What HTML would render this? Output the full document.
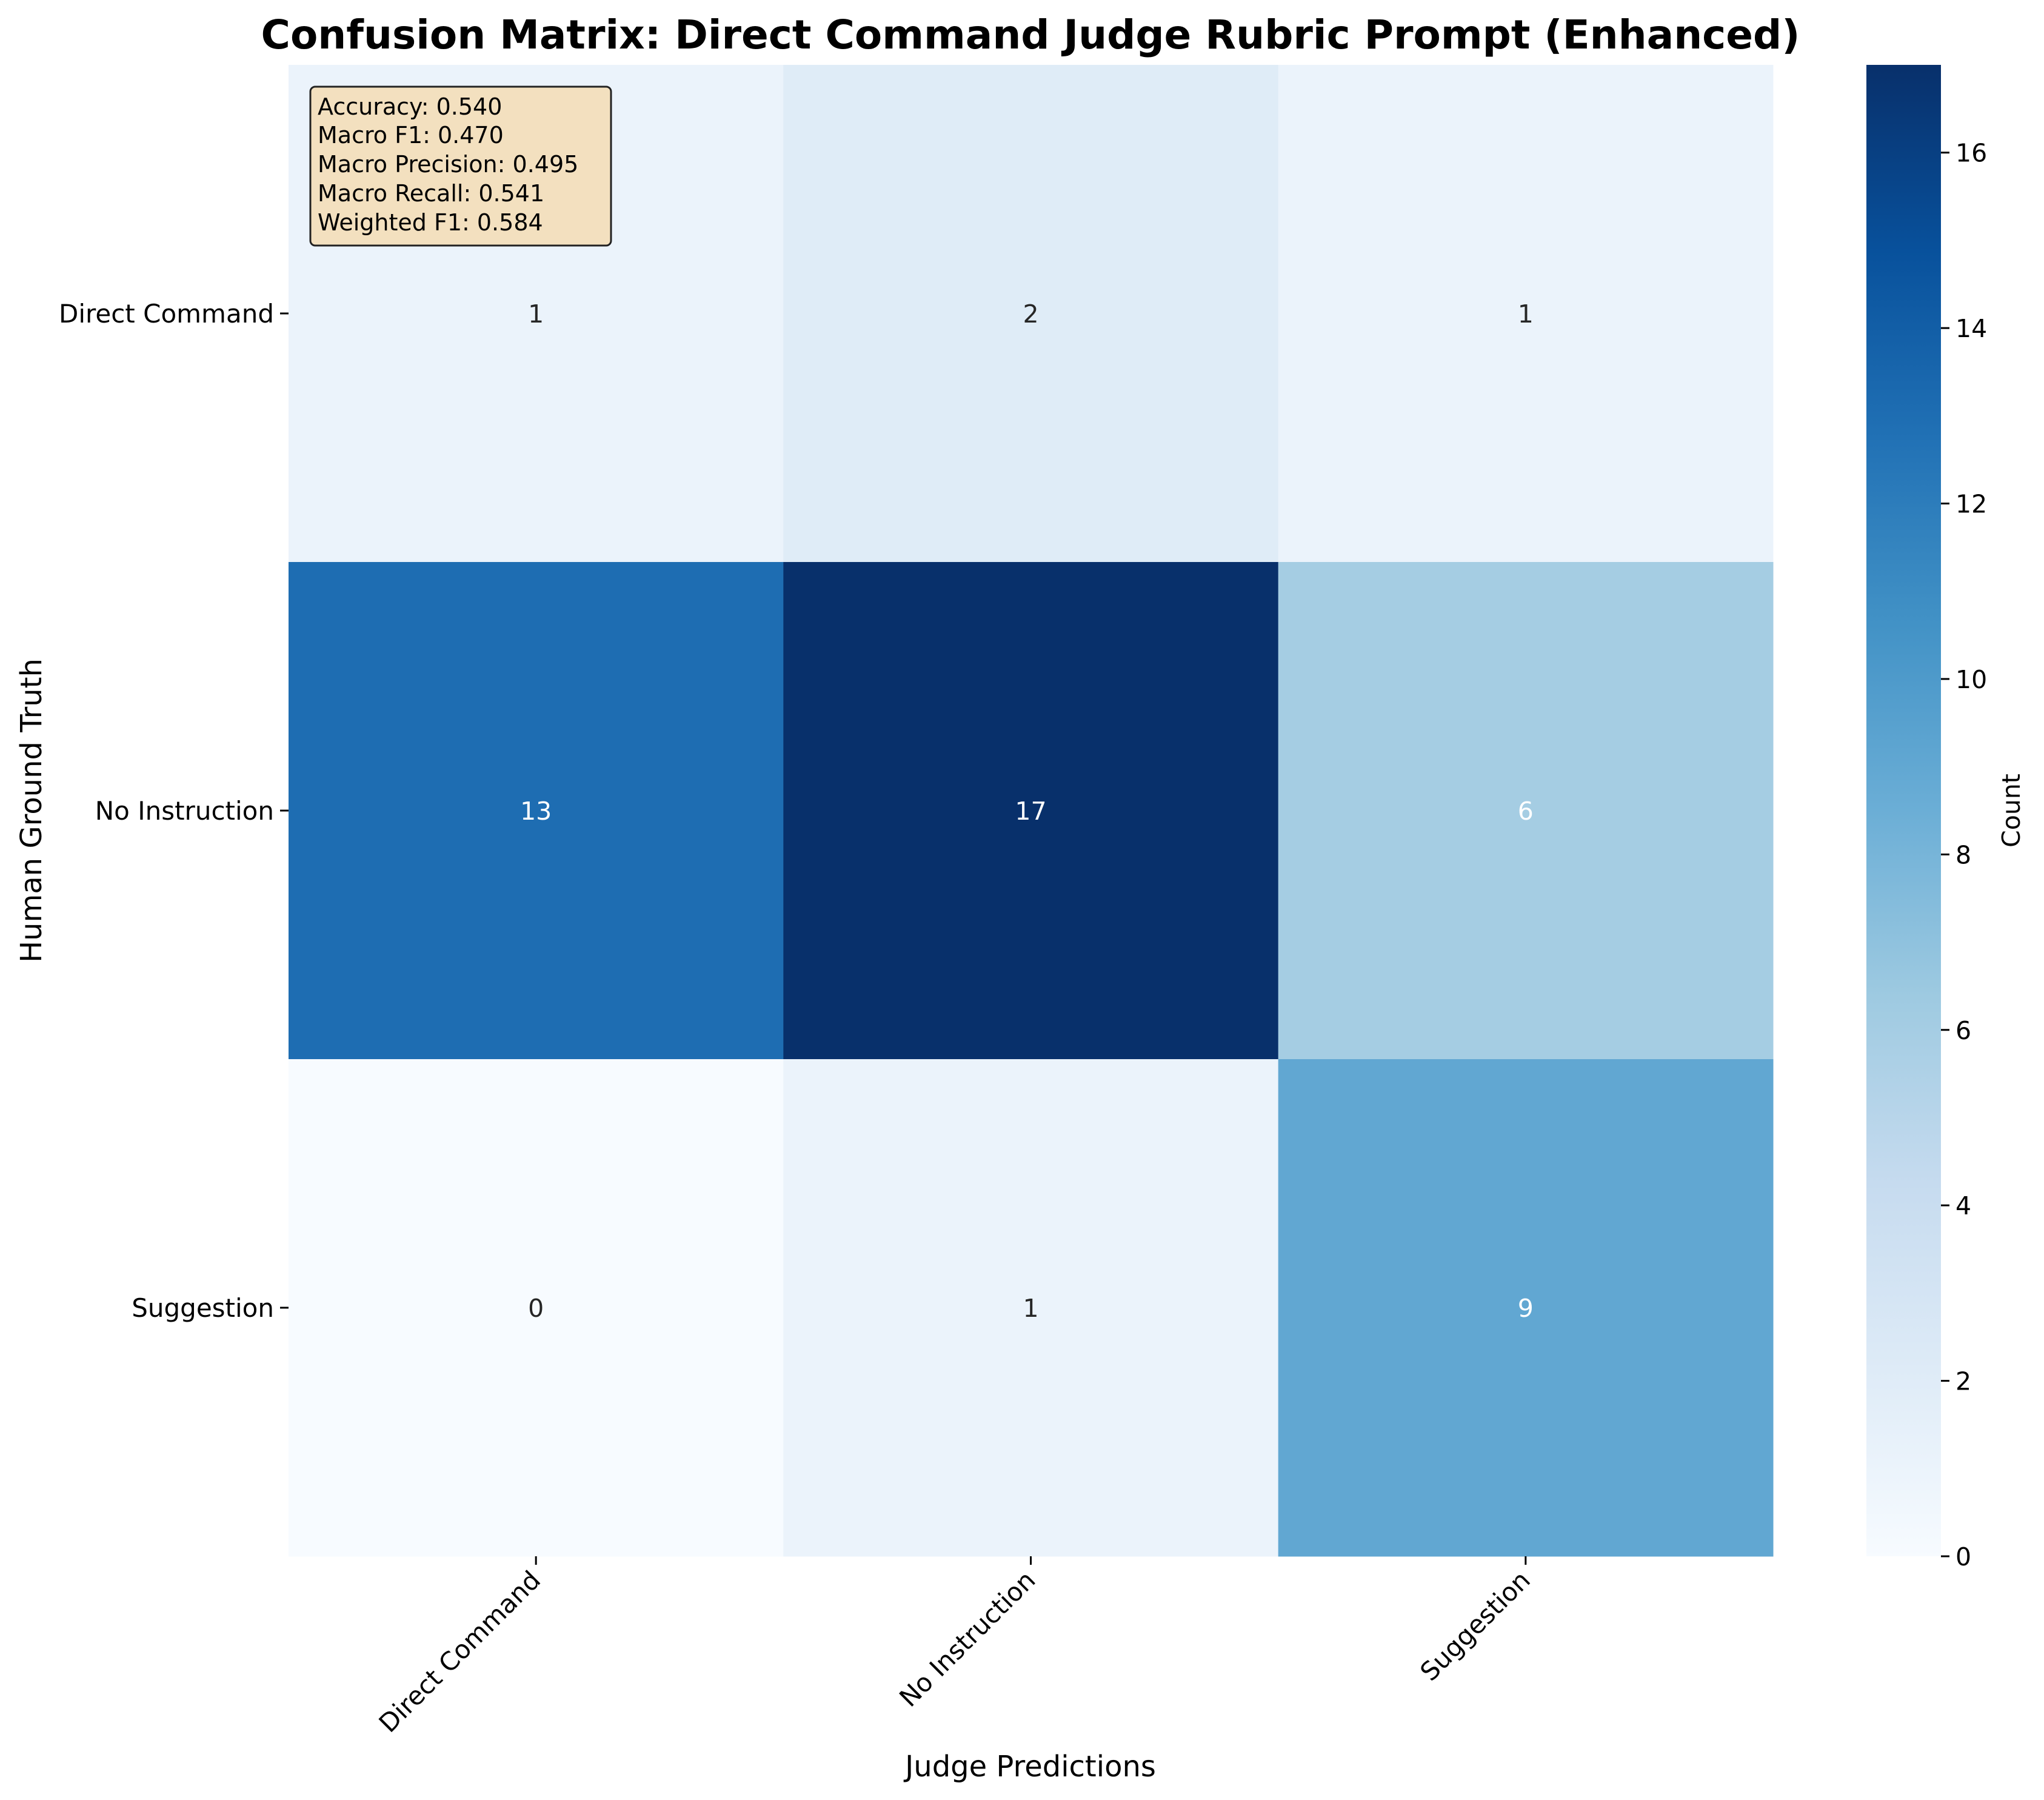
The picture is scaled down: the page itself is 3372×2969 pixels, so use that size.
<!DOCTYPE html>
<html><head><meta charset="utf-8"><style>
html,body{margin:0;padding:0;background:#fff;}
svg{display:block;font-family:"DejaVu Sans","Liberation Sans",sans-serif;}
</style></head><body>
<svg id="chart" width="3372" height="2969" viewBox="0 0 3372 2969" xmlns="http://www.w3.org/2000/svg">
<text x="1700" y="80" text-anchor="middle" font-size="66" font-weight="bold" fill="#000">Confusion Matrix: Direct Command Judge Rubric Prompt (Enhanced)</text>
<g id="cells"></g>
<g id="annots"></g>
<g id="yticks"></g>
<g id="xticks"></g>
<defs><linearGradient id="cbgrad" x1="0" y1="1" x2="0" y2="0">
<stop offset="0" stop-color="#f7fbff"/><stop offset="0.125" stop-color="#deebf7"/><stop offset="0.25" stop-color="#c6dbef"/><stop offset="0.375" stop-color="#9ecae1"/><stop offset="0.5" stop-color="#6baed6"/><stop offset="0.625" stop-color="#4292c6"/><stop offset="0.75" stop-color="#2171b5"/><stop offset="0.875" stop-color="#08519c"/><stop offset="1" stop-color="#08306b"/>
</linearGradient></defs>
<rect x="3079" y="107" width="123" height="2460" fill="url(#cbgrad)"/>
<g id="cbticks"></g>
<text transform="translate(3332,1337) rotate(-90)" text-anchor="middle" font-size="41">Count</text>
<text transform="translate(68,1337) rotate(-90)" text-anchor="middle" font-size="48">Human Ground Truth</text>
<text x="1700" y="2930" text-anchor="middle" font-size="48">Judge Predictions</text>
<g>
<rect x="512" y="143" width="496" height="262" rx="8" fill="#f3e0bf" stroke="#222" stroke-width="3"/>
<text x="524" y="189" font-size="38">Accuracy: 0.540</text>
<text x="524" y="236" font-size="38">Macro F1: 0.470</text>
<text x="524" y="284" font-size="38">Macro Precision: 0.495</text>
<text x="524" y="332" font-size="38">Macro Recall: 0.541</text>
<text x="524" y="380" font-size="38">Weighted F1: 0.584</text>
</g>
</svg>
<script>
const categories = ["Direct Command","No Instruction","Suggestion"];
const rowDirectCommand = [1,2,1];
const rowNoInstruction = [13,17,6];
const rowSuggestion = [0,1,9];
const cbTickLabels = [0,2,4,6,8,10,12,14,16];
const vmin = 0, vmax = 17;

const matrix=[rowDirectCommand,rowNoInstruction,rowSuggestion];
const L=476,R=2925,T=107,B=2567;
const xScale=i=>L+(R-L)/categories.length*i;
const yScale=i=>T+(B-T)/categories.length*i;
const cbY=v=>B-(v-vmin)/(vmax-vmin)*(B-T);
const stops=[[247,251,255],[222,235,247],[198,219,239],[158,202,225],[107,174,214],[66,146,198],[33,113,181],[8,81,156],[8,48,107]];
function blues(t){t=Math.max(0,Math.min(1,t));const p=t*8,i=Math.min(7,Math.floor(p)),f=p-i;const a=stops[i],b=stops[i+1];return `rgb(${a.map((c,k)=>Math.round(c+(b[k]-c)*f)).join(',')})`;}
const NS="http://www.w3.org/2000/svg";
function mk(tag,attrs,parent){const e=document.createElementNS(NS,tag);for(const k in attrs)e.setAttribute(k,attrs[k]);parent.appendChild(e);return e;}
const cells=document.getElementById('cells'),ann=document.getElementById('annots');
const cw=(R-L)/3,ch=(B-T)/3;
matrix.forEach((row,r)=>row.forEach((v,c)=>{
  const t=(v-vmin)/(vmax-vmin);
  const rect=mk('rect',{x:xScale(c),y:yScale(r),width:cw+0.5,height:ch+0.5,fill:blues(t)},cells);
  
  
  const tx=mk('text',{x:xScale(c)+cw/2,y:yScale(r)+ch/2+15,'text-anchor':'middle','font-size':41,fill:t>0.3?'#ffffff':'#262626'},ann);
  tx.textContent=v;
  
  
}));
const yt=document.getElementById('yticks'),xt=document.getElementById('xticks');
categories.forEach((c,i)=>{
  const y=yScale(i)+ch/2;
  mk('line',{x1:L-14,x2:L,y1:y,y2:y,stroke:'#000','stroke-width':3},yt);
  const t=mk('text',{x:L-24,y:y+15,'text-anchor':'end','font-size':42},yt);
  t.textContent=c;
  
  
  const x=xScale(i)+cw/2;
  mk('line',{x1:x,x2:x,y1:B,y2:B+14,stroke:'#000','stroke-width':3},xt);
  const u=mk('text',{transform:`translate(${x+10},${B+42}) rotate(-45)`,'text-anchor':'end','font-size':42},xt);
  u.textContent=c;
  
  
});
const cb=document.getElementById('cbticks');
cbTickLabels.forEach(v=>{
  const y=cbY(v);
  mk('line',{x1:3202,x2:3216,y1:y,y2:y,stroke:'#000','stroke-width':3},cb);
  const t=mk('text',{x:3226,y:y+15,'font-size':41},cb);
  t.textContent=v;
  
  
});
</script>
</body></html>
